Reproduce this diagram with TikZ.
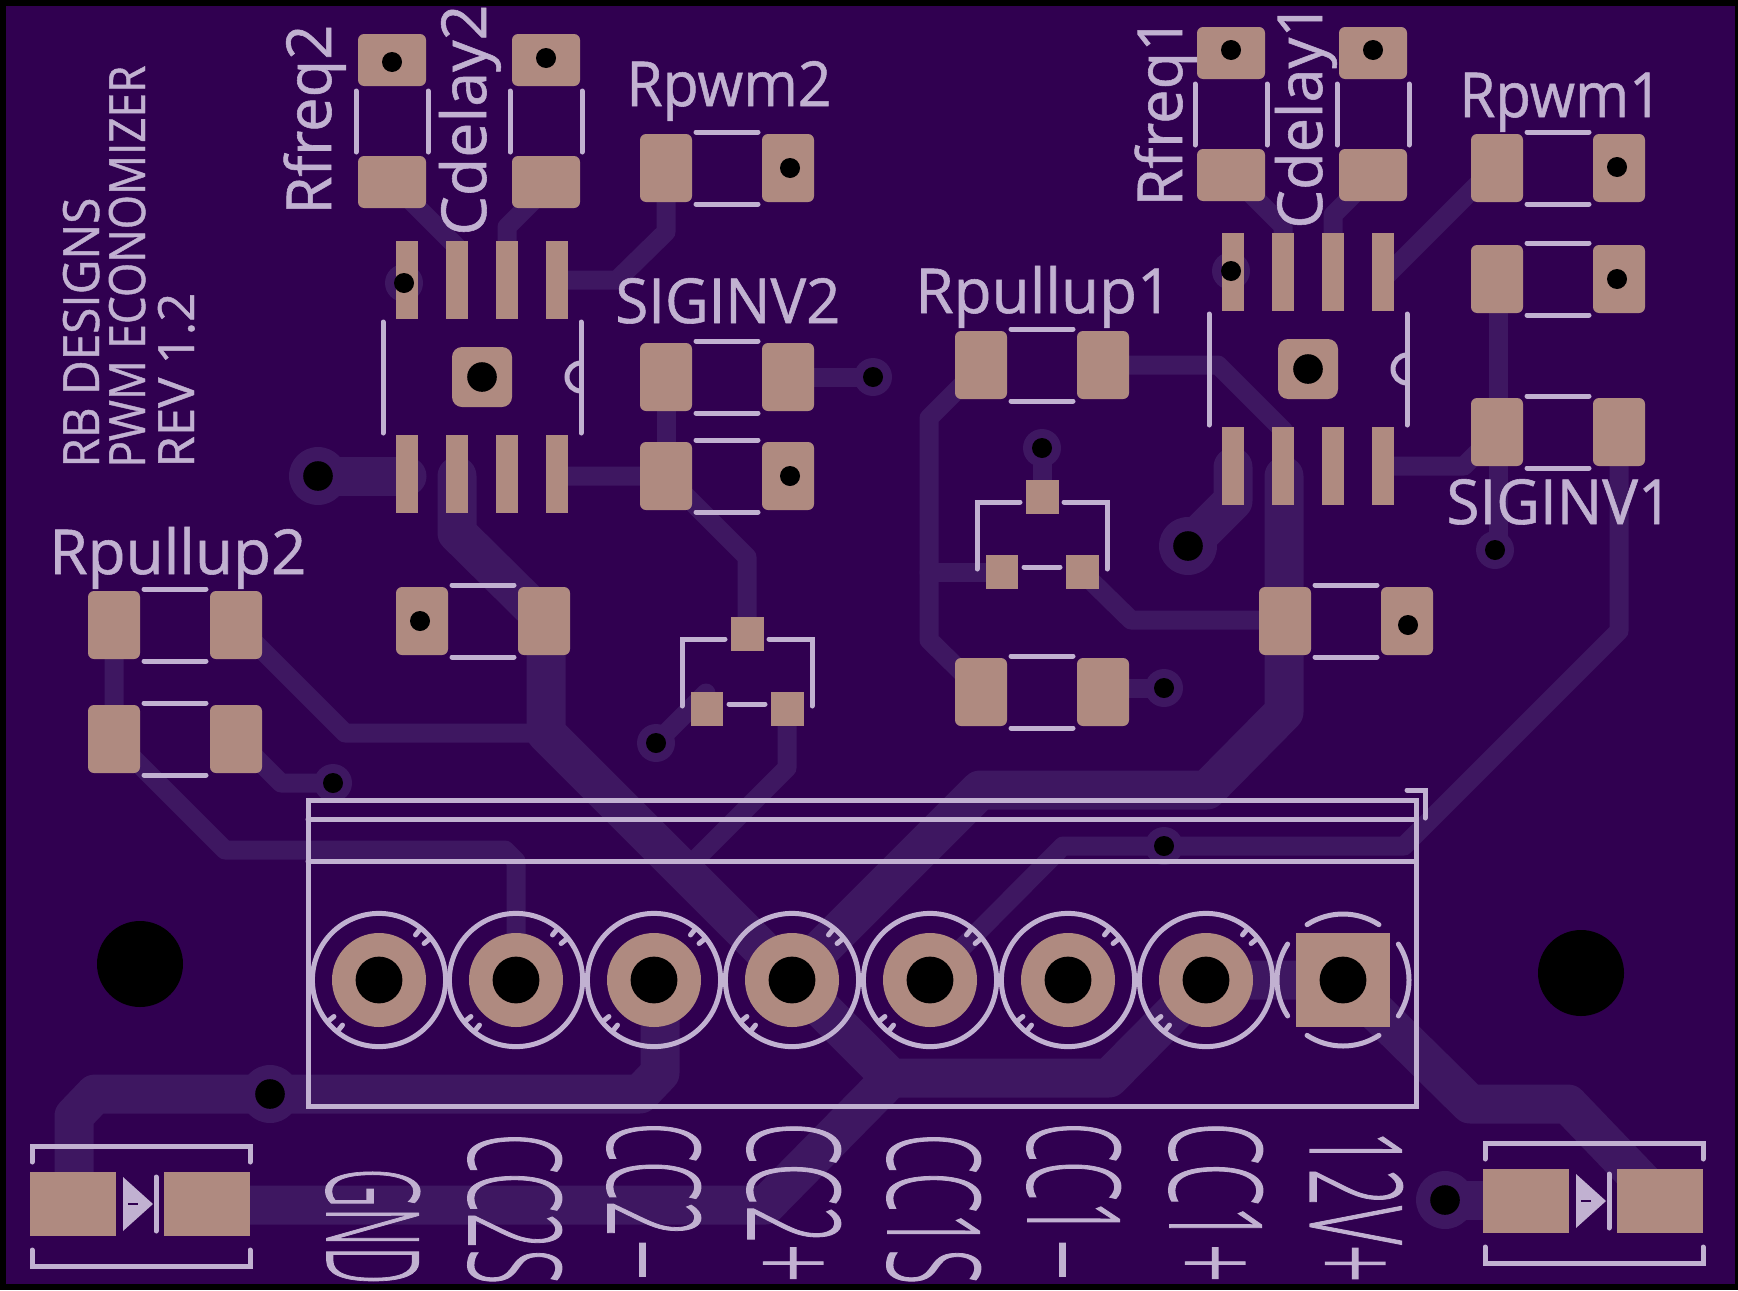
\documentclass[tikz,border=0pt]{standalone}
\usepackage{graphicx}
\usepackage{fontspec}
\setmainfont[RawFeature={embolden=0.9}]{Open Sans}
\newfontfamily\silklight[RawFeature={embolden=1.2}]{Open Sans Light}

\definecolor{boardcol}{HTML}{300050}
\definecolor{tracecol}{HTML}{3E1761}
\definecolor{padcol}{HTML}{AF8A80}
\definecolor{silkcol}{HTML}{C1B1D1}

\tikzset{
	track/.style={draw=tracecol,line width=9.5pt,line cap=round,line join=round},
	fattrack/.style={track,line width=19.5pt},
	silk/.style={draw=silkcol,line width=2.5pt,line cap=round},
	silktext/.style={text=silkcol,anchor=base west,inner sep=0pt,font=\fontsize{31pt}{31pt}\selectfont},
	smalltext/.style={silktext,font=\fontsize{25pt}{25pt}\selectfont},
	wirelabel/.style={silktext,rotate=-90,font=\silklight\fontsize{64pt}{64pt}\selectfont},
}

% text set to a given width, in picture units
\newcommand{\fitw}[2]{\resizebox{\dimexpr#1pt/2\relax}{\height}{#2}}
% long dash of the wire labels
\newcommand{\longdash}{\scalebox{2.2}[1]{-}}

% two pad parts, lying and standing
\newcommand{\hpart}[2]{
	\begin{scope}[shift={(#1,#2)}]
		\fill[padcol,rounded corners=3pt] (-87,-34) rectangle (-35,34);
		\fill[padcol,rounded corners=3pt] (35,-34) rectangle (87,34);
		\draw[silk] (-31,-36) -- (31,-36) (-31,36) -- (31,36);
	\end{scope}
}
\newcommand{\vpart}[2]{
	\begin{scope}[shift={(#1,#2)}]
		\fill[padcol,rounded corners=3pt] (-34,-87) rectangle (34,-35);
		\fill[padcol,rounded corners=3pt] (-34,35) rectangle (34,87);
		\draw[silk] (-36,-30) -- (-36,31) (36,-30) -- (36,31);
	\end{scope}
}
% eight pin package with its centre pad
\newcommand{\icpart}[2]{
	\begin{scope}[shift={(#1,#2)}]
		\foreach \p in {-75,-25,25,75}{
			\fill[padcol] (\p-11,-136) rectangle (\p+11,-58);
			\fill[padcol] (\p-11,58) rectangle (\p+11,136);
		}
		\fill[padcol,rounded corners=5pt] (-30,-30) rectangle (30,30);
		\fill[black] (0,0) circle (7.4pt);
		\draw[silk] (-99,-55) -- (-99,56) (99,-55) -- (99,56);
		\draw[silk] (99,-14) arc (-90:-270:14);
	\end{scope}
}
% three pin package
\newcommand{\sotpart}[2]{
	\begin{scope}[shift={(#1,#2)}]
		\fill[padcol] (-16,-17) rectangle (17,17);
		\fill[padcol] (-56,58) rectangle (-24,92);
		\fill[padcol] (24,58) rectangle (57,92);
		\draw[silk] (-22,5) -- (-65,5) -- (-65,72);
		\draw[silk] (22,5) -- (65,5) -- (65,72);
		\draw[silk] (-18,70) -- (18,70);
	\end{scope}
}
% terminal pin, round
\newcommand{\termpad}[1]{
	\begin{scope}[shift={(#1,980)}]
		\fill[padcol] (0,0) circle (23.5pt);
		\fill[black] (0,0) circle (11.7pt);
		\draw[silk] (0,0) circle (33.3pt);
		\foreach \a in {-51,-39,129,141}{
			\draw[silk] (\a:58) -- (\a:66);
		}
	\end{scope}
}
% diode, x is the left edge
\newcommand{\diode}[2]{
	\begin{scope}[shift={(#1,#2)}]
		\fill[padcol] (0,-32) rectangle (86,32);
		\fill[padcol] (134,-32) rectangle (220,32);
		\fill[silkcol] (93,-27) -- (123,0) -- (93,27) -- cycle;
		\draw[silk] (126,-27) -- (126,27);
		\draw[boardcol,line width=.8pt] (98,0) -- (108,0);
		\draw[silk] (2,-42) -- (2,-58) -- (220,-58) -- (220,-42);
		\draw[silk] (2,46) -- (2,62) -- (220,62) -- (220,46);
	\end{scope}
}

\begin{document}
\begin{tikzpicture}[x=0.5pt,y=-0.5pt]
	\useasboundingbox (0,0) rectangle (1738,1290);

	% board
	\fill[black] (0,0) rectangle (1738,1290);
	\fill[boardcol] (6,6) rectangle (1735,1284);

	% thin tracks
	\draw[track] (392,182) -- (457,247) -- (457,270);
	\draw[track] (546,188) -- (507,227) -- (507,270);
	\draw[track] (666,168) -- (666,232) -- (617,280) -- (557,280);
	\draw[track] (666,377) -- (666,476);
	\draw[track] (557,476) -- (666,476) -- (747,557) -- (747,634);
	\draw[track] (788,377) -- (873,377);
	\draw[track] (237,625) -- (345,733) -- (546,733);
	\draw[track] (114,625) -- (114,739) -- (225,850) -- (505,850) -- (516,861) -- (516,980);
	\draw[track] (237,739) -- (281,783) -- (333,783);
	\draw[track] (656,743) -- (706,693);
	\draw[track] (787,710) -- (787,768) -- (690,865);
	\draw[track] (1104,365) -- (1218,365) -- (1284,431);
	\draw[track] (982,365) -- (929,418) -- (929,640) -- (982,692);
	\draw[track] (929,572) -- (1002,572);
	\draw[track] (1082,572) -- (1131,620) -- (1285,620);
	\draw[track] (1042,448) -- (1042,497);
	\draw[track] (1104,688) -- (1164,688);
	\draw[track] (1231,174) -- (1283,226) -- (1283,270);
	\draw[track] (1373,175) -- (1333,215) -- (1333,270);
	\draw[track] (1494,168) -- (1385,277);
	\draw[track] (1498,279) -- (1498,550);
	\draw[track] (1383,466) -- (1464,466) -- (1498,432);
	\draw[track] (1619,432) -- (1619,631) -- (1404,846) -- (1063,846) -- (930,980);

	% heavy tracks
	\draw[fattrack] (318,476) -- (407,476);
	\draw[fattrack] (457,476) -- (457,533) -- (546,621) -- (546,733) -- (891,1078) -- (1109,1078) -- (1206,980) -- (1344,980);
	\draw[fattrack] (660,980) -- (660,1073) -- (640,1094) -- (95,1094) -- (74,1116) -- (74,1200);
	\draw[fattrack] (207,1205) -- (766,1205) -- (891,1078);
	\draw[fattrack] (1284,476) -- (1284,712) -- (1207,790) -- (980,790) -- (792,978);
	\draw[fattrack] (1233,467) -- (1233,501) -- (1188,546);
	\draw[fattrack] (1344,980) -- (1470,1104) -- (1568,1104) -- (1660,1200);
	\draw[fattrack] (1445,1200) -- (1525,1200);

	% via rings
	\foreach \vx/\vy in {404/283,1231/271,873/377,656/743,333/783,1164/846,1164/688,1495/550,1042/448}{
		\fill[tracecol] (\vx,\vy) circle (9.5pt);
	}
	\foreach \vx/\vy in {318/476,1188/546,270/1094,1445/1200}{
		\fill[tracecol] (\vx,\vy) circle (14.5pt);
	}

	% parts
	\hpart{727}{168}
	\hpart{727}{377}
	\hpart{727}{476}
	\hpart{175}{625}
	\hpart{175}{739}
	\hpart{483}{621}
	\hpart{1042}{365}
	\hpart{1042}{692}
	\hpart{1558}{168}
	\hpart{1558}{279}
	\hpart{1558}{432}
	\hpart{1346}{621}
	\vpart{392}{121}
	\vpart{546}{121}
	\vpart{1231}{114}
	\vpart{1373}{114}
	\icpart{482}{377}
	\icpart{1308}{369}
	\sotpart{1042}{497}
	\sotpart{747}{634}
	\diode{30}{1204}
	\diode{1483}{1201}

	% terminal block
	\foreach \tx in {379,516,654,792,930,1068,1206}{
		\termpad{\tx}
	}
	\fill[padcol] (1296,933) rectangle (1390,1027);
	\fill[black] (1343,980) circle (11.7pt);
	\foreach \a in {0,90,180,270}{
		\draw[silk] (1343,980) ++(\a-33:66) arc (\a-33:\a+33:66);
	}
	\draw[silk] (308,800) rectangle (1416,1106);
	\draw[silk] (308,819) -- (1416,819) (308,861) -- (1416,861);
	\draw[silk] (1407,790) -- (1425,790) -- (1425,818);

	% holes
	\foreach \vx/\vy in {392/62,546/58,790/168,790/476,420/621,404/283,873/377,656/743,333/783,1231/50,1373/50,1231/271,1617/167,1617/279,1042/448,1495/550,1408/625,1164/688,1164/846}{
		\fill[black] (\vx,\vy) circle (5pt);
	}
	\foreach \vx/\vy in {318/476,1188/546,270/1094,1445/1200}{
		\fill[black] (\vx,\vy) circle (7.4pt);
	}
	\fill[black] (140,964) circle (21.5pt);
	\fill[black] (1581,973) circle (21.5pt);

	% labels
	\node[silktext,rotate=90] (lblRfreqB) at (331,215) {\fitw{190}{Rfreq2}};
	\node[silktext,rotate=90] (lblCdelayB) at (486,236) {\fitw{231}{Cdelay2}};
	\node[silktext,rotate=90] (lblRfreqA) at (1182,207) {\fitw{190}{Rfreq1}};
	\node[silktext,rotate=90] (lblCdelayA) at (1322,229) {\fitw{226}{Cdelay1}};
	\node[silktext] (lblRpwmB) at (626,106) {\fitw{205}{Rpwm2}};
	\node[silktext] (lblRpwmA) at (1459,117) {\fitw{203}{Rpwm1}};
	\node[silktext] (lblSigB) at (615,323) {\fitw{225}{SIGINV2}};
	\node[silktext] (lblSigA) at (1446,524) {\fitw{226}{SIGINV1}};
	\node[silktext] (lblPullA) at (915,313) {\fitw{257}{Rpullup1}};
	\node[silktext] (lblPullB) at (49,574) {\fitw{257}{Rpullup2}};

	\node[smalltext,rotate=90] (lblMaker) at (99,468) {\fitw{270}{RB DESIGNS}};
	\node[smalltext,rotate=90] (lblBoard) at (145,468) {\fitw{402}{PWM ECONOMIZER}};
	\node[smalltext,rotate=90] (lblRev) at (194,468) {\fitw{175}{REV 1.2}};

	\node[wirelabel] (lblGnd) at (327,1168) {\fitw{116}{GND}};
	\node[wirelabel] (lblCCBS) at (469,1133) {\fitw{151}{CC2S}};
	\node[wirelabel] (lblCCBm) at (608,1122) {\fitw{160}{CC2\longdash}};
	\node[wirelabel] (lblCCBp) at (748,1122) {\fitw{160}{CC2+}};
	\node[wirelabel] (lblCCAS) at (888,1133) {\fitw{151}{CC1S}};
	\node[wirelabel] (lblCCAm) at (1028,1122) {\fitw{160}{CC1\longdash}};
	\node[wirelabel] (lblCCAp) at (1170,1122) {\fitw{160}{CC1+}};
	\node[wirelabel] (lblVin) at (1310,1130) {\fitw{152}{12V+}};
\end{tikzpicture}
\end{document}
